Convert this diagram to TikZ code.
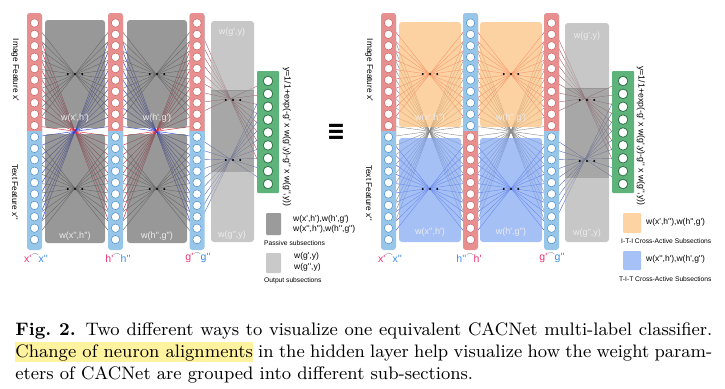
\documentclass[tikz,border=0pt]{standalone}
\usepackage{fontspec}
\newfontfamily\dfont{Liberation Sans}[Ligatures=TeXOff]
\newfontfamily\symf{DejaVu Sans}
\pgfdeclarelayer{bg}
\pgfdeclarelayer{lines}
\pgfdeclarelayer{boxes}
\pgfsetlayers{bg,lines,boxes,main}
\definecolor{colR}{HTML}{E8908F}
\definecolor{colRo}{HTML}{C86464}
\definecolor{colB}{HTML}{97C6E9}
\definecolor{colBo}{HTML}{4A8FCB}
\definecolor{grn}{HTML}{5EB37B}
\definecolor{grno}{HTML}{2D7446}
\definecolor{boxG}{HTML}{6D6D6D}
\definecolor{boxL}{HTML}{B0B0B0}
\definecolor{boxD}{HTML}{838383}
\definecolor{boxO}{HTML}{FCC07C}
\definecolor{boxBl}{HTML}{80A6F2}
\definecolor{lgG}{HTML}{9B9B9B}
\definecolor{lgL}{HTML}{C9C9C9}
\definecolor{lgO}{HTML}{FDD3A3}
\definecolor{lgB}{HTML}{A6C1F6}
\definecolor{lnG}{HTML}{5A5A5A}
\definecolor{lnG2}{HTML}{8A8A8A}
\definecolor{lnR}{HTML}{D02A3C}
\definecolor{lnB}{HTML}{2F3FD0}
\definecolor{lnR2}{HTML}{F2485A}
\definecolor{lnB2}{HTML}{4A58E6}
\definecolor{lnRo}{HTML}{B05868}
\definecolor{lnBo}{HTML}{5868C0}
\definecolor{pk}{HTML}{EE3370}
\definecolor{bl}{HTML}{3D8FE8}
\definecolor{hl}{HTML}{FFF3A0}
% neuron column: #1 prefix, #2 centre x, #3 top fill, #4 top outline, #5 bottom fill, #6 bottom outline
\newcommand\neurcol[6]{%
  \fill[#5,rounded corners=3pt] (#2-7.5,13) rectangle (#2+7.5,250);
  \fill[#3,rounded corners=3pt] (#2-7.5,13) rectangle (#2+7.5,138);
  \fill[#5] (#2-7.5,131.3) rectangle (#2+7.5,140);
  \foreach \k in {1,...,10} \node[neur,draw=#4] (#1\k) at (#2,{23+11.4*(\k-1)}) {};
  \foreach \k in {11,...,20} \node[neur,draw=#6] (#1\k) at (#2,{23+11.4*(\k-1)}) {};
}
\newcommand\greencol[2]{%
  \fill[grn,rounded corners=1pt] (#2-11,71) rectangle (#2+11,193);
  \foreach \k in {1,...,9} \node[gneur] (#1\k) at (#2,{81+12.875*(\k-1)}) {};
}
\newcommand\tdots[2]{%
  \fill (#1-7.3,#2) circle (1.1pt); \fill (#1,#2) circle (1.1pt); \fill (#1+7.3,#2) circle (1.1pt);}
% output box: #1 x1, #2 x2, #3 top, #4 dark top, #5 dark bottom, #6 bottom
\newcommand\obox[6]{%
  \begin{scope}\clip (#1-5,0) rectangle (#2+5,#4);
    \fill[boxL,fill opacity=.7,rounded corners=3pt] (#1,#3) rectangle (#2,#4+20);\end{scope}
  \fill[boxD,fill opacity=.7] (#1,#4) rectangle (#2,#5);
  \begin{scope}\clip (#1-5,#5) rectangle (#2+5,300);
    \fill[boxL,fill opacity=.7,rounded corners=3pt] (#1,#5-20) rectangle (#2,#6);\end{scope}
}
\newcommand\tl[4]{{\color{#1}#2}\kern-0.3pt\raisebox{1.0ex}{\color{black!70}$\scriptstyle\frown$}\kern-0.3pt{\color{#3}#4}}
\begin{document}
\begin{tikzpicture}[x=1pt,y=-1pt,
  neur/.style={circle,minimum size=8.4pt,inner sep=0pt,fill=white,line width=0.5pt},
  gneur/.style={circle,minimum size=9.6pt,inner sep=0pt,fill=white,draw=grno,line width=0.8pt},
  lg/.style={draw=lnG,line width=0.4pt},
  lgb/.style={draw=lnG2,line width=0.4pt},
  lr/.style={draw=lnR,line width=0.45pt},
  lb/.style={draw=lnB,line width=0.45pt},
  lr2/.style={draw=lnR2,line width=0.45pt},
  lb2/.style={draw=lnB2,line width=0.45pt},
  lro/.style={draw=lnRo,line width=0.4pt},
  lbo/.style={draw=lnBo,line width=0.4pt},
  wlab/.style={font=\dfont\fontsize{9}{9}\selectfont,text=white!93!black,inner sep=0pt},
  flab/.style={font=\dfont\fontsize{8.3}{8.3}\selectfont,rotate=-90,inner sep=0pt},
  frm/.style={font=\dfont\fontsize{8.8}{8.8}\selectfont,rotate=-90,inner sep=0pt},
  lgt/.style={font=\dfont\fontsize{8.5}{8.5}\selectfont,anchor=west,inner sep=0pt},
  lgs/.style={font=\dfont\fontsize{6.7}{6.7}\selectfont,anchor=west,inner sep=0pt},
  tlab/.style={font=\dfont\fontsize{10.5}{10.5}\selectfont,inner sep=0pt},
]
\useasboundingbox (0,0) rectangle (725,388);
\begin{pgfonlayer}{bg}\fill[white] (0,0) rectangle (725,388);\end{pgfonlayer}

% ---------- left network ----------
\neurcol{A}{34.5}{colR}{colRo}{colB}{colBo}
\neurcol{B}{115.5}{colR}{colRo}{colB}{colBo}
\neurcol{C}{197}{colR}{colRo}{colB}{colBo}
\greencol{G}{268}
% ---------- right network ----------
\neurcol{D}{388.5}{colR}{colRo}{colB}{colBo}
\neurcol{E}{470.5}{colB}{colBo}{colR}{colRo}
\neurcol{F}{551.5}{colR}{colRo}{colB}{colBo}
\greencol{H}{623}

\begin{pgfonlayer}{lines}
\foreach \k in {1,...,10}{
  \pgfmathtruncatemacro\m{11-\k}
  \pgfmathtruncatemacro\p{10+\k}
  \pgfmathtruncatemacro\q{21-\k}
  % left, x -> h
  \draw[lg] (A\k) -- (B\m);
  \draw[lg] (A\p) -- (B\q);
  \draw[lr] (A\k) -- (B\q);
  \draw[lb] (A\q) -- (B\k);
  % left, h -> g
  \draw[lg] (B\k) -- (C\m);
  \draw[lg] (B\p) -- (C\q);
  \draw[lb] (B\k) -- (C\q);
  \draw[lr] (B\q) -- (C\k);
  % right, x -> h
  \draw[lr2] (D\k) -- (E\m);
  \draw[lb2] (D\p) -- (E\q);
  \draw[lgb] (D\k) -- (E\q);
  \draw[lgb] (D\q) -- (E\k);
  % right, h -> g
  \draw[lr2] (E\k) -- (F\m);
  \draw[lb2] (E\p) -- (F\q);
  \draw[lgb] (E\k) -- (F\q);
  \draw[lgb] (E\q) -- (F\k);
}
\foreach \k in {1,...,9}{
  \pgfmathtruncatemacro\m{10-\k}
  \pgfmathtruncatemacro\p{10+\k}
  \draw[lro] (C\k) -- (G\m);
  \draw[lbo] (C\p) -- (G\m);
  \draw[lro] (F\k) -- (H\m);
  \draw[lbo] (F\p) -- (H\m);
}
\end{pgfonlayer}

\begin{pgfonlayer}{boxes}
\fill[boxG,fill opacity=.7,rounded corners=3pt] (45,20) rectangle (105,128);
\fill[boxG,fill opacity=.7,rounded corners=3pt] (45,134) rectangle (105,243);
\fill[boxG,fill opacity=.7,rounded corners=3pt] (127,20) rectangle (187,128);
\fill[boxG,fill opacity=.7,rounded corners=3pt] (127,134) rectangle (187,243);
\obox{211}{254}{21}{90}{172}{242}
\fill[boxO,fill opacity=.7,rounded corners=3pt] (399,22) rectangle (461,127);
\fill[boxBl,fill opacity=.7,rounded corners=3pt] (399,138) rectangle (461,242);
\fill[boxO,fill opacity=.7,rounded corners=3pt] (480,22) rectangle (542,127);
\fill[boxBl,fill opacity=.7,rounded corners=3pt] (480,138) rectangle (542,242);
\obox{565}{609}{23}{88}{178}{242}
\end{pgfonlayer}

% dots
\tdots{75}{74}\tdots{75}{189}\tdots{157}{74}\tdots{157}{189}\tdots{233}{100}\tdots{233}{160}
\tdots{430}{74}\tdots{430}{189}\tdots{511}{74}\tdots{511}{189}\tdots{587}{100}\tdots{587}{161}

% weight labels
\node[wlab] (w1) at (75,118) {w(x',h')};
\node[wlab] (w2) at (75,236) {w(x'',h'')};
\node[wlab] (w3) at (157,118) {w(h',g')};
\node[wlab] (w4) at (157,236) {w(h'',g'')};
\node[wlab] (w5) at (232,32) {w(g',y)};
\node[wlab] (w6) at (232,235) {w(g'',y)};
\node[wlab] (w7) at (430,118) {w(x',h'')};
\node[wlab] (w8) at (430,232) {w(x'',h')};
\node[wlab] (w9) at (511,118) {w(h'',g')};
\node[wlab] (w10) at (511,232) {w(h',g'')};
\node[wlab] (w11) at (587,36) {w(g',y)};
\node[wlab] (w12) at (587,233) {w(g'',y)};

% side labels
\node[flab] (f1) at (15,70) {Image Feature x'};
\node[flab] (f2) at (15,192) {Text Feature x''};
\node[flab] (f3) at (369,70) {Image Feature x'};
\node[flab] (f4) at (369,193) {Text Feature x''};
\node[frm] (y1) at (287,137) {y=1/1+exp(-g' x w(g',y)-g'' x w(g'',y))};
\node[frm] (y2) at (641,136) {y=1/1+exp(-g' x w(g',y)-g'' x w(g'',y))};

% bottom labels
\node[tlab] (b1) at (36,258) {\tl{pk}{x'}{bl}{x''}};
\node[tlab] (b2) at (118,258) {\tl{pk}{h'}{bl}{h''}};
\node[tlab] (b3) at (198,258) {\tl{pk}{g'}{bl}{g''}};
\node[tlab] (b4) at (390,258) {\tl{pk}{x'}{bl}{x''}};
\node[tlab] (b5) at (469,258) {\tl{bl}{h''}{pk}{h'}};
\node[tlab] (b6) at (552,258) {\tl{pk}{g'}{bl}{g''}};

% equivalence
\node (eqv) at (336,132) {\scalebox{1}[1.25]{\symf\bfseries\fontsize{22}{22}\selectfont ≡}};

% left legend
\fill[lgG,rounded corners=1pt] (266,213) rectangle (281,235);
\node[lgt] (l1) at (293,219) {w(x',h'),w(h',g')};
\node[lgt] (l2) at (293,229) {w(x'',h''),w(h'',g'')};
\node[lgs] (l3) at (264,243) {Passive subsections};
\fill[lgL,rounded corners=1pt] (266,253) rectangle (281,273);
\node[lgt] (l4) at (294,256) {w(g',y)};
\node[lgt] (l5) at (294,267) {w(g'',y)};
\node[lgs] (l6) at (264,281) {Output subsections};
% right legend
\fill[lgO,rounded corners=1pt] (623,213) rectangle (641,233);
\node[lgt] (r1) at (646,222) {w(x',h''),w(h'',g')};
\node[lgs] (r2) at (621,241) {I-T-I Cross-Active Subsections};
\fill[lgB,rounded corners=1pt] (623,251) rectangle (641,270);
\node[lgt] (r3) at (646,259) {w(x'',h'),w(h',g'')};
\node[lgs] (r4) at (619,279) {T-I-T Cross-Active Subsections};

% caption (LNCS-like 9/11 caption, scaled)
\node[anchor=north west,inner sep=0pt,scale=2.0075,transform shape,text width=347.2pt,align=justify,
      font=\fontsize{9}{10.9}\selectfont] (cap) at (15,322)
  {\setlength{\fboxsep}{0pt}\textbf{Fig.~2.} Two different ways to visualize one equivalent CACNet multi-label classifier.\linebreak
   \colorbox{hl}{\rule[-2.4pt]{0pt}{10pt}Change of neuron alignments} in the hidden layer help visualize how the weight param-\linebreak
   eters of CACNet are grouped into different sub-sections.};
\end{tikzpicture}
\end{document}
